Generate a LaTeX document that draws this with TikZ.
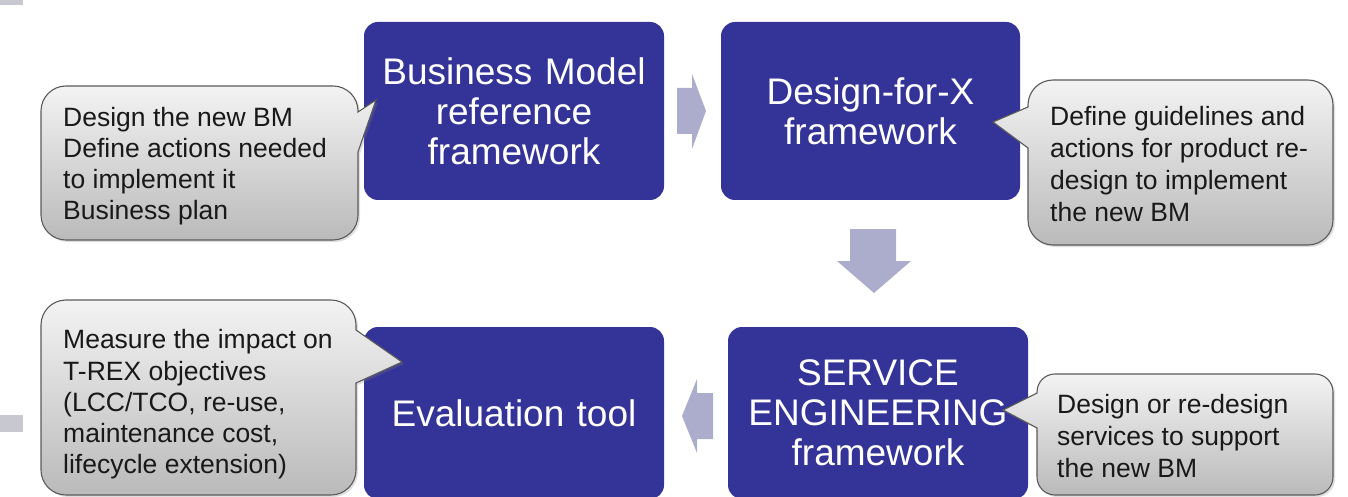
\documentclass[tikz,border=0pt]{standalone}
\usepackage{fontspec}
\setmainfont{Liberation Sans}
\usetikzlibrary{shadows}
\definecolor{boxblue}{RGB}{52,52,152}
\definecolor{arrowgray}{RGB}{172,172,204}
\definecolor{calloutline}{RGB}{90,90,90}
\definecolor{calltop}{RGB}{243,243,243}
\definecolor{callbottom}{RGB}{186,186,186}
\definecolor{edgegray}{RGB}{200,200,208}
\tikzset{
  bluebox/.style={fill=boxblue, draw=none, rounded corners=14pt, inner sep=0pt,
    text=white, align=center, font=\fontsize{37}{40}\selectfont},
  blockarrow/.style={fill=arrowgray, draw=none},
  calloutshape/.style={draw=calloutline, line width=1.1pt, top color=calltop, bottom color=callbottom,
    drop shadow={opacity=0.25, shadow xshift=2pt, shadow yshift=-2pt}},
  callouttext/.style={anchor=west, inner sep=0pt, align=left, text=black!90}
}
\begin{document}
\begin{tikzpicture}[x=1pt,y=1pt]
\useasboundingbox (0,0) rectangle (1348,496);
\clip (0,0) rectangle (1348,496);
% faint fragments at left edge
\fill[edgegray] (0,491) rectangle (23,496);
\fill[edgegray] (0,64) rectangle (23,81);
% blue boxes
\node[bluebox, text width=300pt, minimum height=178pt] (bm) at (514,385) {Business Model\\reference\\framework};
\node[bluebox, text width=299pt, minimum height=178pt] (dfx) at (870.5,385) {Design-for-X\\framework};
\node[bluebox, text width=300pt, minimum height=172pt] (se) at (878,83) {SERVICE\\ENGINEERING\\framework};
\node[bluebox, text width=300pt, minimum height=172pt] (ev) at (514,83) {Evaluation tool};
% block arrows
\fill[blockarrow] (677,408) -- (692,408) -- (692,422) -- (706,385) -- (692,347) -- (692,362) -- (677,362) -- cycle;
\fill[blockarrow] (850,267) -- (896,267) -- (896,235) -- (911,235) -- (874,203) -- (837,235) -- (850,235) -- cycle;
\fill[blockarrow] (713,103) -- (697,103) -- (697,117) -- (682,80) -- (697,43) -- (697,57) -- (713,57) -- cycle;
% callout 1
\path[calloutshape] (66,410) -- (333,410) arc[start angle=90,end angle=0,radius=25pt] -- (358,384) -- (376,396) -- (358,344) -- (358,281) arc[start angle=0,end angle=-90,radius=25pt] -- (66,256) arc[start angle=-90,end angle=-180,radius=25pt] -- (41,385) arc[start angle=180,end angle=90,radius=25pt] -- cycle;
\node[callouttext, font=\fontsize{26.5}{31}\selectfont] (t1) at (63,330) {Design the new BM\\Define actions needed\\to implement it\\Business plan};
% callout 2
\path[calloutshape] (1053,416) -- (1308,416) arc[start angle=90,end angle=0,radius=25pt] -- (1333,276) arc[start angle=0,end angle=-90,radius=25pt] -- (1053,251) arc[start angle=-90,end angle=-180,radius=25pt] -- (1028,348) -- (993,374) -- (1028,389) -- (1028,391) arc[start angle=180,end angle=90,radius=25pt] -- cycle;
\node[callouttext, font=\fontsize{26.5}{31.7}\selectfont] (t2) at (1050,332) {Define guidelines and\\actions for product re-\\design to implement\\the new BM};
% callout 3
\path[calloutshape] (66,196) -- (331,196) arc[start angle=90,end angle=0,radius=25pt] -- (356,166) -- (402,134) -- (356,113) -- (356,26) arc[start angle=0,end angle=-90,radius=25pt] -- (66,1) arc[start angle=-90,end angle=-180,radius=25pt] -- (41,171) arc[start angle=180,end angle=90,radius=25pt] -- cycle;
\node[callouttext, font=\fontsize{26.5}{31.25}\selectfont] (t3) at (63,91.5) {Measure the impact on\\T-REX objectives\\(LCC/TCO, re-use,\\maintenance cost,\\lifecycle extension)};
% callout 4
\path[calloutshape] (1055,122) -- (1315,122) arc[start angle=90,end angle=0,radius=18pt] -- (1333,19) arc[start angle=0,end angle=-90,radius=18pt] -- (1055,1) arc[start angle=-90,end angle=-180,radius=18pt] -- (1037,68) -- (1003,86) -- (1037,103) -- (1037,104) arc[start angle=180,end angle=90,radius=18pt] -- cycle;
\node[callouttext, font=\fontsize{26.5}{32}\selectfont] (t4) at (1057,59.5) {Design or re-design\\services to support\\the new BM};
\end{tikzpicture}
\end{document}
